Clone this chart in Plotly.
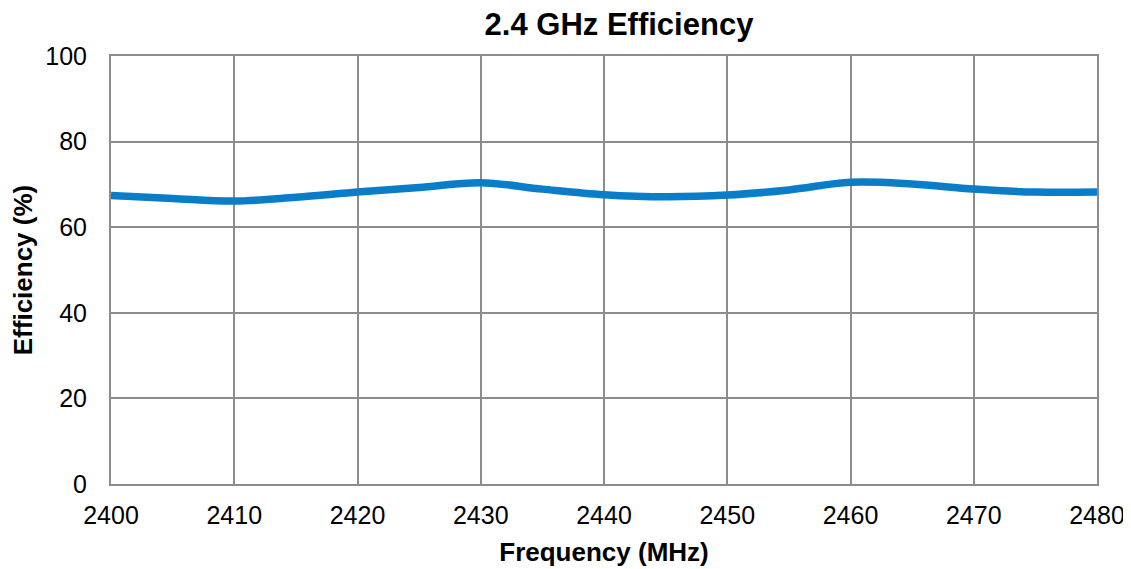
import plotly.graph_objects as go

freq_mhz = [2400, 2405, 2410, 2415, 2420, 2425, 2430, 2435, 2440, 2445,
            2450, 2455, 2460, 2465, 2470, 2475, 2480]
efficiency_pct = [67.4, 66.7, 66.1, 67.0, 68.2, 69.3, 70.4, 68.9, 67.6, 67.1,
                  67.5, 68.7, 70.5, 70.1, 68.9, 68.2, 68.2]
x_ticks = [2400, 2410, 2420, 2430, 2440, 2450, 2460, 2470, 2480]
y_ticks = [0, 20, 40, 60, 80, 100]

fig = go.Figure()
fig.add_trace(go.Scatter(
    x=freq_mhz, y=efficiency_pct, mode="lines",
    line=dict(color="#0A7DC8", width=7.5, shape="spline", smoothing=1.0),
    showlegend=False, hoverinfo="x+y",
))

font_family = "Liberation Sans, Arial, sans-serif"
grid_color = "#8C8C8C"

W, H = 1123, 561
fig.update_layout(
    width=W, height=H,
    margin=dict(l=103, r=34, t=48, b=85, autoexpand=False),
    paper_bgcolor="white", plot_bgcolor="white",
    title=dict(text="<b>2.4 GHz Efficiency</b>", x=611 / W, xanchor="center",
               y=1 - 16 / H, yanchor="middle", automargin=False,
               font=dict(family=font_family, size=31, color="#000000")),
    font=dict(family=font_family, color="#000000"),
    xaxis=dict(
        range=[2400, 2480], tickvals=x_ticks, ticktext=[str(v) for v in x_ticks],
        showgrid=True, gridcolor=grid_color, gridwidth=2,
        showline=True, linecolor=grid_color, linewidth=2, mirror=True,
        zeroline=False, ticks="", ticklabelstandoff=8, automargin=False,
        tickfont=dict(size=25, family=font_family, color="#000000"),
        title=dict(text="<b>Frequency (MHz)</b>", standoff=15,
                   font=dict(size=26, family=font_family, color="#000000")),
    ),
    yaxis=dict(
        range=[0, 100], tickvals=y_ticks, ticktext=[str(v) for v in y_ticks],
        showgrid=True, gridcolor=grid_color, gridwidth=2,
        showline=True, linecolor=grid_color, linewidth=2, mirror=True,
        zeroline=False, ticks="", ticklabelstandoff=17, automargin=False,
        tickfont=dict(size=25, family=font_family, color="#000000"),
        title=dict(text="<b>Efficiency (%)</b>", standoff=6,
                   font=dict(size=26, family=font_family, color="#000000")),
    ),
)

fig.write_html("out.html")
